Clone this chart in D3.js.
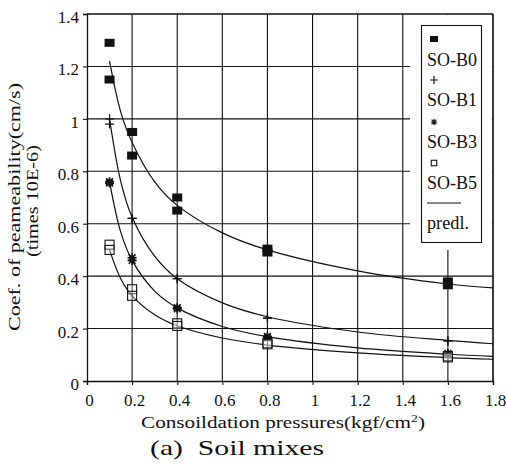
<!DOCTYPE html>
<html><head><meta charset="utf-8">
<script src="https://cdn.jsdelivr.net/npm/d3@7"></script>
<style>body{margin:0;background:#fff}svg{display:block}</style>
</head><body>
<svg id="chart" width="507" height="465"></svg>
<script>
// measured pressures (kgf/cm2), duplicates are repeat specimens
const pressures = [0.1, 0.1, 0.2, 0.2, 0.4, 0.4, 0.8, 0.8, 1.6, 1.6];
const soB0 = [1.29, 1.15, 0.95, 0.86, 0.70, 0.65, 0.505, 0.49, 0.38, 0.365];
const soB1 = [1.00, 0.98, 0.62, 0.62, 0.39, 0.39, 0.24, 0.24, 0.153, 0.153];
const soB3 = [0.76, 0.755, 0.47, 0.46, 0.28, 0.275, 0.17, 0.165, 0.105, 0.10];
const soB5 = [0.52, 0.50, 0.35, 0.325, 0.22, 0.21, 0.145, 0.14, 0.095, 0.09];
// predicted curves
const predX  = [0.1, 0.15, 0.2, 0.3, 0.4, 0.6, 0.8, 1.2, 1.6, 1.8];
const predB0 = [1.22, 1.025, 0.91, 0.76, 0.67, 0.565, 0.50, 0.42, 0.37, 0.355];
const predB1 = [1.00, 0.76, 0.625, 0.476, 0.39, 0.298, 0.245, 0.187, 0.155, 0.142];
const predB3 = [0.76, 0.567, 0.46, 0.343, 0.279, 0.208, 0.169, 0.126, 0.102, 0.094];
const predB5 = [0.50, 0.389, 0.325, 0.253, 0.211, 0.164, 0.137, 0.107, 0.089, 0.083];
const xTicks = [0, 0.2, 0.4, 0.6, 0.8, 1, 1.2, 1.4, 1.6, 1.8];
const yTicks = [0, 0.2, 0.4, 0.6, 0.8, 1, 1.2, 1.4];
const seriesNames = ["SO-B0", "SO-B1", "SO-B3", "SO-B5"];
const seriesMarkers = ["fillsq", "plus", "star", "opensq"];

const FONT = '"Liberation Serif","DejaVu Serif","Noto Serif","Times New Roman",Times,serif';
const svg = d3.select("#chart");
const x = d3.scaleLinear().domain([0, 1.8]).range([87, 493]);
const y = d3.scaleLinear().domain([0, 1.4]).range([381, 14]);
const ink = "#111";

// grid
const g = svg.append("g");
g.selectAll(".vg").data(xTicks.slice(1)).join("line")
  .attr("x1", d => x(d)).attr("x2", d => x(d)).attr("y1", y(0)).attr("y2", y(1.4))
  .attr("stroke", ink).attr("stroke-width", 1.1);
g.selectAll(".hg").data(yTicks.slice(1)).join("line")
  .attr("x1", x(0)).attr("x2", x(1.8)).attr("y1", d => y(d)).attr("y2", d => y(d))
  .attr("stroke", ink).attr("stroke-width", 1.1);

// axes
const xAxis = d3.axisBottom(x).tickValues(xTicks).tickSize(4).tickFormat(d3.format("~g"));
const yAxis = d3.axisLeft(y).tickValues(yTicks).tickSize(4).tickFormat(d3.format("~g"));
const gx = svg.append("g").attr("transform", `translate(0,${y(0)})`).call(xAxis);
const gy = svg.append("g").attr("transform", `translate(${x(0)},0)`).call(yAxis);
[gx, gy].forEach(a => {
  a.attr("font-family", null).attr("font-size", null);
  a.select(".domain").attr("stroke", ink).attr("stroke-width", 1.3);
  a.selectAll(".tick line").attr("stroke", ink).attr("stroke-width", 1.1);
  a.selectAll("text").style("font-family", FONT).style("font-size", "17px").attr("fill", ink);
});
gx.selectAll("text").attr("dy", "1.05em").attr("dx", "2");
gy.selectAll("text").attr("dx", "-1").attr("dy", "0.5em");

// legend backdrop
svg.append("rect").attr("x", 410).attr("y", 15).attr("width", 82).attr("height", 235).attr("fill", "#fff");

// curves
const line = d3.line().x(d => x(d[0])).y(d => y(d[1])).curve(d3.curveCatmullRom.alpha(0.5));
[predB0, predB1, predB3, predB5].forEach(p => {
  svg.append("path").datum(predX.map((v, i) => [v, p[i]])).attr("d", line)
    .attr("fill", "none").attr("stroke", ink).attr("stroke-width", 1.2);
});

// frame top/right
svg.append("line").attr("x1", x(0)).attr("x2", x(1.8)).attr("y1", y(1.4)).attr("y2", y(1.4)).attr("stroke", ink).attr("stroke-width", 1.2);
svg.append("line").attr("x1", x(1.8)).attr("x2", x(1.8)).attr("y1", y(1.4)).attr("y2", y(0)).attr("stroke", ink).attr("stroke-width", 1.2);

function marker(sel, type, cx, cy, s) {
  if (type === "fillsq") {
    sel.append("rect").attr("x", cx - s/2).attr("y", cy - s/2 + 1).attr("width", s).attr("height", s - 2).attr("fill", ink);
  } else if (type === "opensq") {
    sel.append("rect").attr("x", cx - s/2 + 0.5).attr("y", cy - s/2 + 0.5).attr("width", s - 1).attr("height", s - 1).attr("fill", "#fff").attr("fill-opacity", 0.3).attr("stroke", ink).attr("stroke-width", 1.1);
  } else if (type === "plus") {
    sel.append("path").attr("d", `M${cx - s/2},${cy}H${cx + s/2}M${cx},${cy - s/2}V${cy + s/2}`).attr("stroke", ink).attr("stroke-width", 1.2);
  } else if (type === "star") {
    const r = s / 2;
    sel.append("path").attr("d", `M${cx - r},${cy}H${cx + r}M${cx},${cy - r}V${cy + r}M${cx - r*0.75},${cy - r*0.75}L${cx + r*0.75},${cy + r*0.75}M${cx - r*0.75},${cy + r*0.75}L${cx + r*0.75},${cy - r*0.75}`)
      .attr("stroke", ink).attr("stroke-width", s < 8 ? 1.1 : 1.6);
  }
}

const pts = svg.append("g");
[soB0, soB1, soB3, soB5].forEach((vals, si) => {
  vals.forEach((v, i) => marker(pts, seriesMarkers[si], x(pressures[i]), y(v), si === 1 ? 9 : (si === 2 ? 9 : 10)));
});

// legend
const lg = svg.append("g");
lg.append("rect").attr("x", 421.5).attr("y", 25.5).attr("width", 60).attr("height", 217).attr("fill", "#fff").attr("stroke", ink).attr("stroke-width", 1.1);
const legY = [39, 80, 122, 163];
const legTextY = [66, 106, 148, 189];
seriesNames.forEach((n, i) => {
  marker(lg, seriesMarkers[i], 434, legY[i], i === 1 ? 8 : (i === 0 ? 8 : 6.5));
  lg.append("text").attr("x", 427).attr("y", legTextY[i]).style("font-family", FONT).style("font-size", "18px")
    .attr("textLength", 50).attr("lengthAdjust", "spacingAndGlyphs").attr("fill", ink).text(n);
});
lg.append("line").attr("x1", 427).attr("x2", 461).attr("y1", 203).attr("y2", 203).attr("stroke", ink).attr("stroke-width", 1.2);
lg.append("text").attr("x", 427).attr("y", 229).style("font-family", FONT).style("font-size", "18px")
  .attr("textLength", 42).attr("lengthAdjust", "spacingAndGlyphs").attr("fill", ink).text("predl.");

// axis titles
svg.append("text").attr("transform", "translate(20,207) rotate(-90)").attr("text-anchor", "middle")
  .style("font-family", FONT).style("font-size", "17px").attr("textLength", 248).attr("lengthAdjust", "spacingAndGlyphs")
  .attr("fill", ink).text("Coef. of peameability(cm/s)");
svg.append("text").attr("transform", "translate(38,201) rotate(-90)").attr("text-anchor", "middle")
  .style("font-family", FONT).style("font-size", "17px").attr("textLength", 112).attr("lengthAdjust", "spacingAndGlyphs")
  .attr("fill", ink).text("(times 10E-6)");
const xt = svg.append("text").attr("x", 283).attr("y", 428).attr("text-anchor", "middle")
  .style("font-family", FONT).style("font-size", "17px").attr("textLength", 284).attr("lengthAdjust", "spacingAndGlyphs").attr("fill", ink);
xt.append("tspan").text("Consoildation pressures(kgf/cm");
xt.append("tspan").attr("dy", -6).style("font-size", "11px").text("2");
xt.append("tspan").attr("dy", 6).text(")");
svg.append("text").attr("x", 150).attr("y", 455).style("font-family", FONT).style("font-size", "22px")
  .attr("textLength", 174).attr("lengthAdjust", "spacingAndGlyphs").attr("fill", ink).style("white-space", "pre").text("(a)  Soil mixes");
</script>
</body></html>
